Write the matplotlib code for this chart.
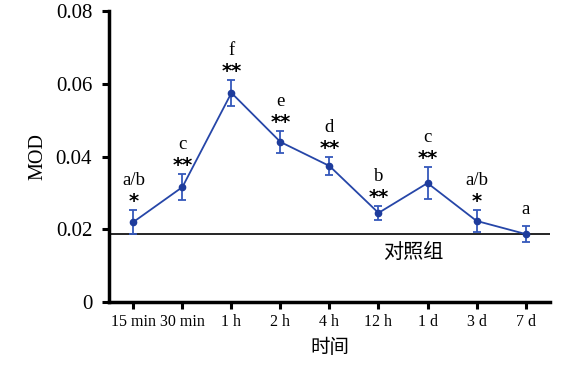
import matplotlib
matplotlib.use("Agg")
import matplotlib.pyplot as plt

categories = ["15 min", "30 min", "1 h", "2 h", "4 h", "12 h", "1 d", "3 d", "7 d"]
mod_mean = [0.0220, 0.0316, 0.0575, 0.0440, 0.0374, 0.0245, 0.0327, 0.0223, 0.0187]
mod_err = [0.0033, 0.0036, 0.0036, 0.0030, 0.0025, 0.0020, 0.0044, 0.0030, 0.0022]
stars = ["*", "**", "**", "**", "**", "**", "**", "*", ""]
letters = ["a/b", "c", "f", "e", "d", "b", "c", "a/b", "a"]
control_value = 0.0187
yticks = [0, 0.02, 0.04, 0.06, 0.08]
ytick_labels = ["0", "0.02", "0.04", "0.06", "0.08"]

serif = ["Liberation Serif", "DejaVu Serif"]
cjk = ["Noto Sans CJK SC", "DejaVu Sans"]
blue = "#2646a8"

fig = plt.figure(figsize=(5.76, 3.67), dpi=100)
ax = fig.add_axes([0.189, 0.177, 0.766, 0.793])

x = list(range(len(categories)))
ax.errorbar(x, mod_mean, yerr=mod_err, color=blue, ecolor="#3558bb", lw=1.3,
            elinewidth=1.3, capsize=3, capthick=1.3, marker="o", markersize=4.5,
            markerfacecolor="#1e3c9c", markeredgecolor="#1e3c9c", zorder=3)
ax.axhline(control_value, color="black", lw=1.2, zorder=2)
ax.text(5.7, control_value - 0.0022, "对照组", family=cjk, fontsize=14.5,
        ha="center", va="top")

for xi, m, e, s, l in zip(x, mod_mean, mod_err, stars, letters):
    top = m + e
    if s:
        ax.annotate(s, (xi, top), xytext=(0, -1), textcoords="offset points",
                    ha="center", va="bottom", fontsize=14, fontweight="bold",
                    family="DejaVu Sans")
        off = 15
    else:
        off = 6
    ax.annotate(l, (xi, top), xytext=(0, off), textcoords="offset points",
                ha="center", va="bottom", fontsize=13.5, family=serif)

ax.set_xlim(-0.5, 8.5)
ax.set_ylim(0, 0.08)
ax.set_xticks(x)
ax.set_xticklabels(categories, family=serif, fontsize=11.5)
ax.set_yticks(yticks)
ax.set_yticklabels(ytick_labels, family=serif, fontsize=15)
ax.tick_params(axis="both", direction="out", length=5, width=2.2)
ax.tick_params(axis="y", pad=7)
for side in ["top", "right"]:
    ax.spines[side].set_visible(False)
for side in ["left", "bottom"]:
    ax.spines[side].set_linewidth(2.5)
ax.set_ylabel("MOD", family=serif, fontsize=14.5, labelpad=6)
ax.set_xlabel("时间", family=cjk, fontsize=14, labelpad=5)

fig.savefig("out.png", dpi=100)
